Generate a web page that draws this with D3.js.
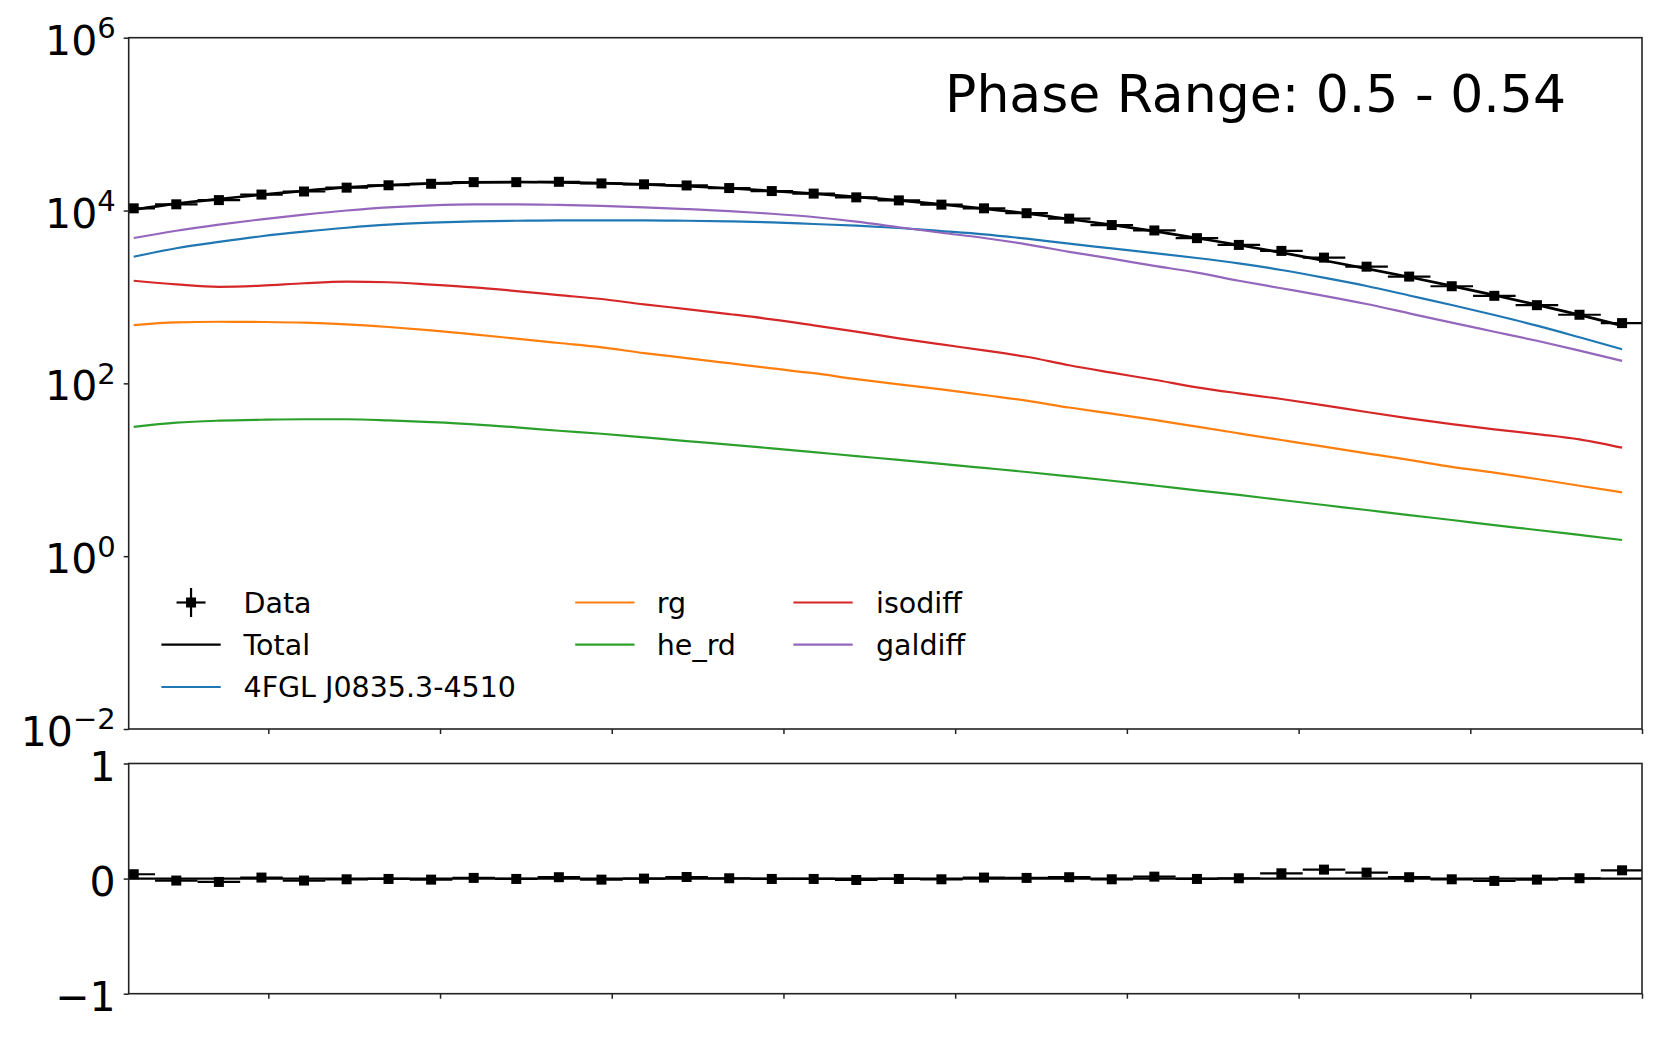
<!DOCTYPE html>
<html>
<head>
<meta charset="utf-8">
<script src="https://cdn.jsdelivr.net/npm/d3@7"></script>
<style>
body{margin:0;background:#fff;}
text{font-family:"DejaVu Sans",sans-serif;}
</style>
</head>
<body>
<script>
// log10(E / MeV) at bin centres, half bin width in the same units
var logE=[1.804,1.866,1.928,1.990,2.052,2.114,2.175,2.237,2.299,2.361,2.423,2.485,
          2.547,2.609,2.671,2.733,2.794,2.856,2.918,2.980,3.042,3.104,3.166,3.228,
          3.290,3.352,3.413,3.475,3.537,3.599,3.661,3.723,3.785,3.847,3.909,3.971];
var halfBin=0.031;

var data=[10600,11800,13200,15300,16600,18400,19600,20400,21300,21300,21500,20600,
          20100,19500,18200,16800,15700,14200,13100,11700,10600,9310,8050,6790,
          5880,4790,4000,3410,2850,2240,1720,1330,1030,803,622,498];
var total=[10200,12000,13600,15200,16900,18500,19700,20600,21200,21400,21200,20800,
           20100,19200,18100,16900,15700,14400,13100,11800,10500,9250,7950,6830,
           5780,4800,3990,3260,2640,2130,1700,1340,1050,810,620,465];
var src4fgl=[2920,3660,4330,5040,5690,6320,6860,7230,7500,7620,7710,7710,
             7710,7620,7500,7310,6980,6670,6280,5790,5310,4720,4130,3650,
             3220,2820,2440,2050,1670,1340,1040,807,618,465,341,248];
var rg=[473,508,516,513,504,482,449,411,369,329,293,261,
        224,196,171,149,131,112,97.5,85.3,73.3,63.0,52.5,44.7,
        37.8,31.5,26.4,22.1,18.5,15.5,13.0,10.8,9.25,7.82,6.53,5.48];
var heRd=[31.3,35.1,37.0,37.9,38.4,38.4,37.3,35.6,33.6,31.0,28.3,26.1,
          23.7,21.5,19.5,17.7,16.0,14.4,13.0,11.7,10.5,9.42,8.40,7.46,
          6.58,5.78,5.11,4.47,3.91,3.42,2.99,2.62,2.29,2.01,1.76,1.54];
var isodiff=[1540,1400,1310,1350,1440,1500,1480,1390,1290,1170,1050,946,
             820,724,634,551,469,396,332,282,241,203,162,133,
             110,90.0,76.6,65.9,55.7,46.6,39.4,33.8,29.4,25.9,22.5,18.0];
var galdiff=[4810,5830,6860,7910,8950,10000,10900,11500,11800,11800,11600,11300,
             10900,10400,9860,9180,8410,7430,6400,5530,4810,4060,3330,2770,
             2290,1910,1540,1260,1030,828,646,504,396,311,239,182];
var resid=[0.038,-0.017,-0.029,0.009,-0.017,-0.006,-0.003,-0.009,0.006,-0.003,0.012,-0.009,
           0.000,0.014,0.003,-0.003,-0.003,-0.012,-0.003,-0.006,0.009,0.006,0.012,-0.006,
           0.017,-0.003,0.003,0.046,0.078,0.052,0.012,-0.006,-0.020,-0.009,0.003,0.072];

var xTicks=[2.0,2.25,2.5,2.75,3.0,3.25,3.5,3.75,4.0];
var yTicks=[1e-2,1,1e2,1e4,1e6];
var rTicks=[-1,0,1];
var title="Phase Range: 0.5 - 0.54";

var W=1661,H=1038;
var L=128.7,R=1642,T1=37.7,B1=729,T2=763.5,B2=993.7;
var ink="#222";

var svg=d3.select("body").append("svg").attr("width",W).attr("height",H);
svg.append("rect").attr("width",W).attr("height",H).attr("fill","#fff");

var x=d3.scaleLinear().domain([1.7967,4.0]).range([L,R]);
var y=d3.scaleLog().domain([1e-2,1e6]).range([B1,T1]);
var yr=d3.scaleLinear().domain([-1,1]).range([B2,T2]);

var defs=svg.append("defs");
defs.append("clipPath").attr("id","c1").append("rect")
    .attr("x",L).attr("y",T1).attr("width",R-L).attr("height",B1-T1);
defs.append("clipPath").attr("id","c2").append("rect")
    .attr("x",L).attr("y",T2).attr("width",R-L).attr("height",B2-T2);

var comps=[
  {name:"4FGL J0835.3-4510",vals:src4fgl,color:"#1f77b4"},
  {name:"rg",vals:rg,color:"#ff7f0e"},
  {name:"he_rd",vals:heRd,color:"#2ca02c"},
  {name:"isodiff",vals:isodiff,color:"#d62728"},
  {name:"galdiff",vals:galdiff,color:"#9467bd"}
];

// ---- upper panel
var p1=svg.append("g").attr("clip-path","url(#c1)");
var line=d3.line().curve(d3.curveMonotoneX)
  .x(function(d,i){return x(logE[i]);}).y(function(d){return y(d);});

p1.selectAll("path.comp").data(comps).enter().append("path")
  .attr("class","comp")
  .attr("d",function(c){return line(c.vals);})
  .attr("fill","none").attr("stroke",function(c){return c.color;})
  .attr("stroke-width",2.2);

p1.append("path").attr("d",line(total))
  .attr("fill","none").attr("stroke","#000").attr("stroke-width",2.7);

p1.selectAll("line.xe").data(data).enter().append("line")
  .attr("x1",function(d,i){return x(logE[i]-halfBin);})
  .attr("x2",function(d,i){return x(logE[i]+halfBin);})
  .attr("y1",function(d){return y(d);}).attr("y2",function(d){return y(d);})
  .attr("stroke","#000").attr("stroke-width",2.2);

p1.selectAll("rect.mk").data(data).enter().append("rect")
  .attr("x",function(d,i){return x(logE[i])-5;})
  .attr("y",function(d){return y(d)-5;})
  .attr("width",10).attr("height",10).attr("fill","#000");

// ---- lower panel
var p2=svg.append("g").attr("clip-path","url(#c2)");
p2.append("line").attr("x1",L).attr("x2",R).attr("y1",yr(0)).attr("y2",yr(0))
  .attr("stroke","#000").attr("stroke-width",2.2);

p2.selectAll("line.xe").data(resid).enter().append("line")
  .attr("x1",function(d,i){return x(logE[i]-halfBin);})
  .attr("x2",function(d,i){return x(logE[i]+halfBin);})
  .attr("y1",function(d){return yr(d);}).attr("y2",function(d){return yr(d);})
  .attr("stroke","#000").attr("stroke-width",2.2);

p2.selectAll("rect.mk").data(resid).enter().append("rect")
  .attr("x",function(d,i){return x(logE[i])-5;})
  .attr("y",function(d){return yr(d)-5;})
  .attr("width",10).attr("height",10).attr("fill","#000");

// ---- frames and axes
[[T1,B1],[T2,B2]].forEach(function(b){
  svg.append("rect").attr("x",L).attr("y",b[0]).attr("width",R-L).attr("height",b[1]-b[0])
     .attr("fill","none").attr("stroke",ink).attr("stroke-width",1.6);
});

function styleAxis(g){
  g.select(".domain").remove();
  g.attr("font-family","DejaVu Sans").attr("font-size",41).attr("color",ink);
  g.selectAll(".tick line").attr("stroke-width",1.5);
}

[B1,B2].forEach(function(b){
  svg.append("g").attr("transform","translate(0,"+b+")")
     .call(d3.axisBottom(x).tickValues(xTicks).tickSize(5).tickFormat(""))
     .call(styleAxis);
});

var gy=svg.append("g").attr("transform","translate("+L+",0)")
  .call(d3.axisLeft(y).tickValues(yTicks).tickSize(5).tickPadding(8).tickFormat(""))
  .call(styleAxis);
gy.selectAll(".tick text").each(function(d){
  var t=d3.select(this).attr("dy",null).attr("fill","#000");
  var p=Math.round(Math.log10(d));
  t.append("tspan").attr("dy","16.5px").text("10");
  t.append("tspan").attr("dy","-16.6px").attr("font-size",29)
   .text(p<0?"\u2212"+(-p):String(p));
});

var gr=svg.append("g").attr("transform","translate("+L+",0)")
  .call(d3.axisLeft(yr).tickValues(rTicks).tickSize(5).tickPadding(8).tickFormat(d3.format("d")))
  .call(styleAxis);
gr.selectAll(".tick text").attr("dy","16.5px").attr("fill","#000");

// ---- title
svg.append("text").attr("x",1566).attr("y",112).attr("text-anchor","end")
   .attr("font-size",52).attr("fill","#000").text(title);

// ---- legend
var rowY=[602.5,644.7,687];
var colX=[[161.4,220.7,243.5],[575.2,634.5,656.8],[793.4,852.7,876]];
var lg=svg.append("g");
var items=[{name:"Data",type:"data"},{name:"Total",color:"#000"}].concat(comps);
var slot=[[0,0],[0,1],[0,2],[1,0],[1,1],[2,0],[2,1]];
items.forEach(function(it,k){
  var c=colX[slot[k][0]],yy=rowY[slot[k][1]];
  if(it.type==="data"){
    var cx=(c[0]+c[1])/2;
    lg.append("line").attr("x1",cx-14.5).attr("x2",cx+14.5).attr("y1",yy).attr("y2",yy)
      .attr("stroke","#000").attr("stroke-width",2.2);
    lg.append("line").attr("x1",cx).attr("x2",cx).attr("y1",yy-14.5).attr("y2",yy+14.5)
      .attr("stroke","#000").attr("stroke-width",2.2);
    lg.append("rect").attr("x",cx-5).attr("y",yy-5).attr("width",10).attr("height",10)
      .attr("fill","#000");
  } else {
    lg.append("line").attr("x1",c[0]).attr("x2",c[1]).attr("y1",yy).attr("y2",yy)
      .attr("stroke",it.color).attr("stroke-width",2.2);
  }
  lg.append("text").attr("x",c[2]).attr("y",yy+10).attr("font-size",28.5)
    .attr("fill","#000").text(it.name);
});
</script>
</body>
</html>
